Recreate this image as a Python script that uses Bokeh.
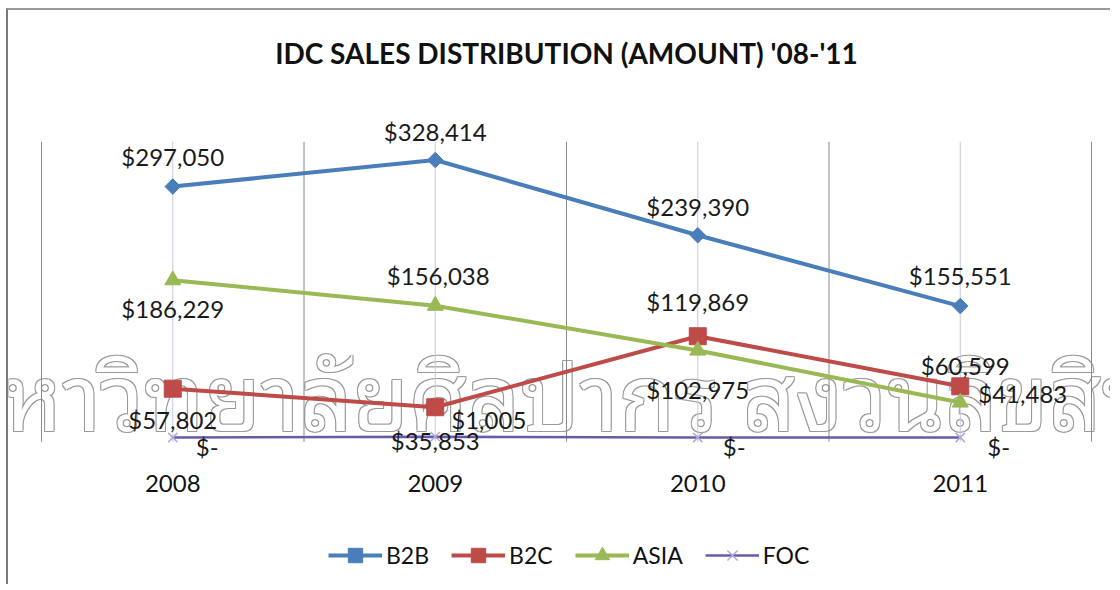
import math
from bokeh.plotting import figure
from bokeh.models import (Range1d, Legend, LegendItem, ColumnDataSource, Label)
from bokeh.core.properties import value
from bokeh.embed import file_html
from bokeh.resources import INLINE

# ---------------- data ----------------
years = ["2008", "2009", "2010", "2011"]
b2b = [297050, 328414, 239390, 155551]
b2c = [57802, 35853, 119869, 60599]
asia = [186229, 156038, 102975, 41483]
foc = [0, 1005, 0, 0]
series_names = ["B2B", "B2C", "ASIA", "FOC"]
title_text = "IDC SALES DISTRIBUTION (AMOUNT) '08-'11"
watermark_text = "มหาวิทยาลัยศิลปากร สงวนลิขสิทธิ์"

# ---------------- layout / style ----------------
FONT = "Lato"
COLORS = {"B2B": "#4A7EBB", "B2C": "#BE4B48", "ASIA": "#98B954", "FOC": "#6A5AA8"}
AXIS_MIN, AXIS_MAX = -5000, 350000
# page geometry (px)
X0, Y0 = 8, 10            # canvas origin on page
W, H = 1104, 576
PLOT_LEFT = 41            # page x of first category boundary
CAT_PX = 262.5            # px per category
Y_ZERO = 437.0            # page y of value 0
Y_TOP = 141.3             # page y of AXIS_MAX
PER_PX = AXIS_MAX / (Y_ZERO - Y_TOP)

def vy(page_y):
    return (Y_ZERO - page_y) * PER_PX

def vx(page_x):
    return (page_x - PLOT_LEFT) / CAT_PX

# label placement per point: (dx px, dy px down, align)
LABEL_LAYOUT = {
    "B2B":  [(0, -30, "center"), (0, -29, "center"), (0, -29, "center"), (0, -31, "center")],
    "B2C":  [(0, 31, "center"), (0, 33, "center"), (0, -35, "center"), (5, -21, "center")],
    "ASIA": [(0, 28, "center"), (3, -30, "center"), (0, 39, "center"), (18, -9, "left")],
    "FOC":  [(23, 9, "left"), (16, -17, "left"), (25, 9, "left"), (27, 9, "left")],
}

p = figure(width=W, height=H, output_backend="svg", toolbar_location=None,
           x_range=Range1d(vx(X0), vx(X0 + W)),
           y_range=Range1d(vy(Y0 + H), vy(Y0)),
           x_axis_location=None, y_axis_location=None,
           min_border=0, outline_line_color=None)
p.grid.visible = False
p.styles = {"margin-left": "6px", "margin-top": "8px",
            "border-left": "2px solid #7a7a7a", "border-top": "2px solid #9a9a9a"}

n = len(years)
centers = [i + 0.5 for i in range(n)]
bounds = list(range(n + 1))

# watermark (outlined text)
wm_kw = dict(x=vx(578), y=vy(389), x_units="data", y_units="data", text=watermark_text,
             text_align="center", text_baseline="alphabetic",
             text_font="'Noto Sans Thai Looped', 'Noto Serif Thai', 'Noto Sans Thai', sans-serif",
             text_font_size="92px", level="image")
for dx, dy in [(-1, -1), (1, 1), (-1, 1), (1, -1)]:
    p.add_layout(Label(x_offset=dx, y_offset=dy, text_color="#9a9a9a", **wm_kw))
p.add_layout(Label(x_offset=0, y_offset=0, text_color="#ffffff", **wm_kw))

# vertical gridlines: category boundaries and category centres
p.segment(x0=bounds, y0=[AXIS_MIN] * len(bounds), x1=bounds, y1=[AXIS_MAX] * len(bounds),
          line_color="#8a8a8a", line_width=1)
p.segment(x0=centers, y0=[AXIS_MIN] * n, x1=centers, y1=[AXIS_MAX] * n,
          line_color="#cbc8da", line_width=1)

# title
p.add_layout(Label(x=n / 2, y=vy(52), text=title_text, text_align="center",
                   text_baseline="middle", text_font=FONT, text_font_size="28px",
                   text_font_style="bold", text_color="#111111"))

# category labels
p.text(x=centers, y=[vy(483)] * n, text=years, text_align="center",
       text_baseline="middle", text_font=value(FONT), text_font_size="24px",
       text_color="#111111")

series = {"B2B": b2b, "B2C": b2c, "ASIA": asia, "FOC": foc}
marker_spec = {
    "B2B": dict(marker="square", size=11, angle=math.pi / 4),
    "B2C": dict(marker="square", size=17, angle=0),
    "ASIA": dict(marker="triangle", size=16, angle=0),
    "FOC": dict(marker="x", size=13, angle=0),
}
line_w = {"B2B": 4, "B2C": 4, "ASIA": 4, "FOC": 2.5}

items = []
for name in series_names:
    vals = series[name]
    col = COLORS[name]
    src = ColumnDataSource(dict(x=centers, y=vals))
    lr = p.line("x", "y", source=src, line_color=col, line_width=line_w[name])
    ms = marker_spec[name]
    if name == "FOC":
        mr = p.scatter("x", "y", source=src, marker="x", size=ms["size"],
                       line_color="#b3a9d6", line_width=1.5)
    else:
        mr = p.scatter("x", "y", source=src, marker=ms["marker"], size=ms["size"],
                       angle=ms["angle"], fill_color=col, line_color=col)
    items.append(LegendItem(label=name, renderers=[lr, mr]))

# data labels
for name in series_names:
    vals = series[name]
    lay = LABEL_LAYOUT[name]
    for align in ("center", "left"):
        idx = [i for i in range(len(vals)) if lay[i][2] == align]
        if not idx:
            continue
        txt = ["$-" if vals[i] == 0 else "${:,}".format(vals[i]) for i in idx]
        src = ColumnDataSource(dict(
            x=[centers[i] for i in idx], y=[vals[i] for i in idx], t=txt,
            dx=[lay[i][0] for i in idx], dy=[lay[i][1] for i in idx]))
        p.text("x", "y", text="t", source=src, x_offset="dx", y_offset="dy",
               text_align=align, text_baseline="middle",
               text_font=value(FONT), text_font_size="24px", text_color="#1a1a1a")

GLYPH_H = 36
legend = Legend(items=items, orientation="horizontal",
                location=(328 - X0, (Y0 + H) - (555 + GLYPH_H // 2)),
                glyph_width=54, glyph_height=GLYPH_H, label_standoff=4, spacing=22,
                padding=0, margin=0, border_line_color=None,
                background_fill_alpha=0, label_text_font=FONT,
                label_text_font_size="23px", label_text_color="#111111")
p.add_layout(legend, "center")

open("out.html", "w").write(file_html(p, INLINE))
